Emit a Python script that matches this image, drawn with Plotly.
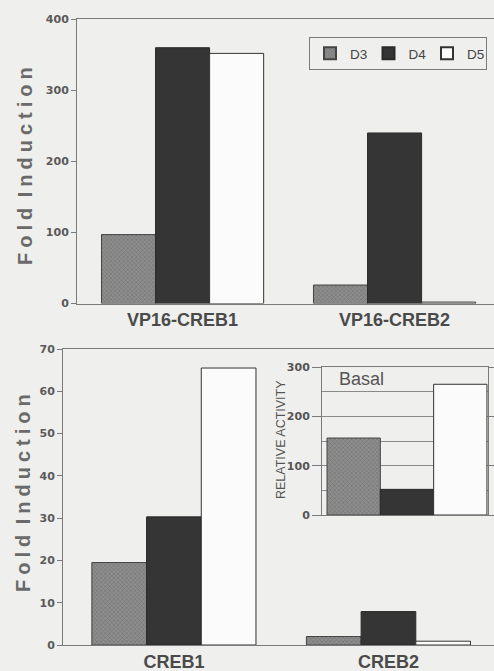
import plotly.graph_objects as go

# ---------------- data ----------------
series = ["D3", "D4", "D5"]

top_categories = ["VP16-CREB1", "VP16-CREB2"]
top_d3 = [97, 26]
top_d4 = [360, 240]
top_d5 = [352, 2]
top_ticks = [0, 100, 200, 300, 400]

bottom_categories = ["CREB1", "CREB2"]
bottom_d3 = [19.5, 2.0]
bottom_d4 = [30.3, 7.9]
bottom_d5 = [65.5, 0.9]
bottom_ticks = [0, 10, 20, 30, 40, 50, 60, 70]

basal_values = [156, 52, 265]          # D3, D4, D5
basal_ticks = [0, 100, 200, 300]

# ---------------- layout helpers ----------------
W, H = 494, 671
def px(x):
    return x / W
def py(y):
    return 1 - y / H

BG = "#efefed"
AX = "#7a7a7a"
SANS = "Liberation Sans, Arial, sans-serif"
TICKF = dict(family="DejaVu Sans, sans-serif", size=11, color="#5a5a5a", weight="bold")

styles = {
    "D3": dict(color="#8a8a8a",
               pattern=dict(shape="x", size=3, solidity=0.35, fgcolor="#555555", bgcolor="#8e8e8e"),
               line=dict(color="#444444", width=1)),
    "D4": dict(color="#353535", line=dict(color="#2a2a2a", width=1)),
    "D5": dict(color="#fbfbfb", line=dict(color="#333333", width=1)),
}

fig = go.Figure()

top_vals = [top_d3, top_d4, top_d5]
bot_vals = [bottom_d3, bottom_d4, bottom_d5]
for i, s in enumerate(series):
    fig.add_trace(go.Bar(x=top_categories, y=top_vals[i], name=s, marker=styles[s],
                         xaxis="x", yaxis="y", offsetgroup=s, showlegend=True))
for i, s in enumerate(series):
    fig.add_trace(go.Bar(x=bottom_categories, y=bot_vals[i], name=s, marker=styles[s],
                         xaxis="x2", yaxis="y2", offsetgroup=s, showlegend=False))
for i, s in enumerate(series):
    fig.add_trace(go.Bar(x=[i], y=[basal_values[i]], name=s, marker=styles[s],
                         width=1, offset=-0.5,
                         xaxis="x3", yaxis="y3", showlegend=False))

common_y = dict(showline=True, linecolor=AX, linewidth=1, ticks="outside", ticklen=5,
                tickcolor=AX, tickfont=TICKF, showgrid=False, zeroline=False)
common_x = dict(type="category", showline=True, mirror=True, linecolor=AX, linewidth=1,
                ticks="", showgrid=False, zeroline=False,
                tickfont=dict(family=SANS, size=18, color="#4a4a4a", weight="bold"))

SP = "\u2005"
title_text = SP.join("Fold") + SP + " " + SP.join("Induction")

def note(text, x, y, size, angle=0, color="#555555", weight="normal"):
    return dict(text=text, x=px(x), y=py(y), xref="paper", yref="paper",
                xanchor="center", yanchor="middle", textangle=angle, showarrow=False,
                font=dict(family=SANS, size=size, color=color, weight=weight))

fig.update_layout(
    width=W, height=H,
    margin=dict(l=0, r=0, t=0, b=0, autoexpand=False),
    paper_bgcolor=BG, plot_bgcolor=BG,
    barmode="group", bargap=0.235, bargroupgap=0,
    xaxis=dict(domain=[px(77), 1], anchor="y", range=[-0.498, 1.469], **common_x),
    yaxis=dict(domain=[py(303.5), py(19.3)], anchor="x", range=[0, 400],
               tickvals=top_ticks, **common_y),
    xaxis2=dict(domain=[px(63), 1], anchor="y2", range=[-0.517, 1.492], **common_x),
    yaxis2=dict(domain=[py(645), py(349)], anchor="x2", range=[0, 70],
                tickvals=bottom_ticks, **common_y),
    xaxis3=dict(domain=[px(322), px(488)], anchor="y3", range=[-0.594, 2.52],
                showline=True, mirror=True, linecolor=AX, linewidth=1,
                showticklabels=False, ticks="", showgrid=False, zeroline=False),
    yaxis3=dict(domain=[py(515), py(367)], anchor="x3", range=[0, 300],
                tickvals=basal_ticks, showline=True, mirror="allticks", linecolor=AX,
                linewidth=1, ticks="outside", ticklen=9, tickcolor=AX,
                tickfont=dict(family="DejaVu Sans, sans-serif", size=11, color="#555555",
                              weight="bold"),
                showgrid=True, gridcolor="#8a8a8a", gridwidth=1, zeroline=False,
                minor=dict(dtick=50, showgrid=True, gridcolor="#8a8a8a", ticks="")),
    legend=dict(orientation="h", x=px(309), y=py(37), xanchor="left", yanchor="top",
                bgcolor=BG, bordercolor=AX, borderwidth=1,
                font=dict(family=SANS, size=13.5, color="#444444"),
                entrywidth=13.5, entrywidthmode="pixels", traceorder="normal",
                itemsizing="constant", itemwidth=30),
    annotations=[
        note(title_text, 25, 166, 20, angle=-90, color="#6a6a6a", weight="bold"),
        note(title_text, 23, 493, 20, angle=-90, color="#6a6a6a", weight="bold"),
        note("RELATIVE ACTIVITY", 281, 440, 12.5, angle=-90),
        note("Basal", 361, 379, 18),
    ],
)

fig.write_html("out.html", config={"displayModeBar": False},
               post_script="document.body.style.margin='0';document.body.style.overflow='hidden';")
